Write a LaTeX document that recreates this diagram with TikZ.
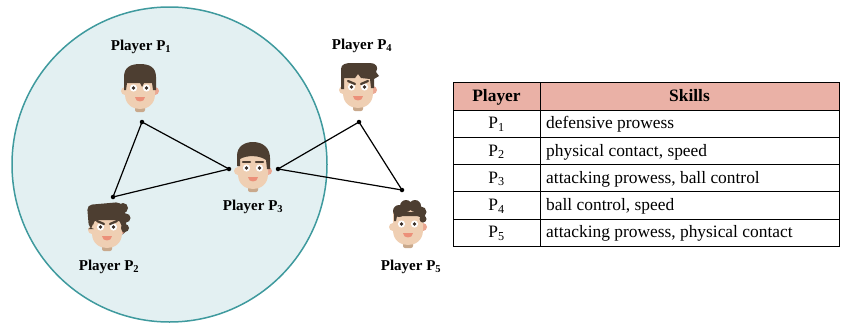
\documentclass[tikz,border=0pt]{standalone}
\usepackage{fontspec}
\setmainfont{Liberation Serif}
\usepackage{tikz}

\definecolor{ZoneFill}{HTML}{E3F0F2}
\definecolor{ZoneLine}{HTML}{3F9A9E}
\definecolor{HeadFill}{HTML}{EAB1A6}
\definecolor{Skin}{HTML}{EFCFB3}
\definecolor{Hair}{HTML}{4D3E31}
\definecolor{Cheek}{HTML}{EBA792}
\definecolor{Lips}{HTML}{EC9079}
\definecolor{Neck}{HTML}{C9A98C}
\definecolor{Pupil}{HTML}{3A2E27}

\tikzset{
  zone/.style={circle, draw=ZoneLine, fill=ZoneFill, line width=1.5pt,
    minimum size=315pt, inner sep=0pt},
  playerlabel/.style={font=\fontsize{15}{18}\selectfont\bfseries, inner sep=0pt},
  joint/.style={circle, fill=black, inner sep=0pt, minimum size=4.5pt},
  link/.style={line width=1.2pt},
  cell/.style={font=\fontsize{17.4}{20}\selectfont, inner sep=0pt},
  brow/.style={Hair, line width=2.2pt, line cap=round},
  % head without hair, eyes on the origin
  pics/player/.style={code={
    \fill[Neck, rounded corners=2pt] (-5,14) rectangle (5,24);
    \fill[Skin] (-15,3) circle (4);
    \fill[Cheek] (15,3) circle (4);
    \fill[Skin] (-15,-14) -- (-15,6) .. controls (-15,17) and (-7,21) .. (0,21)
      .. controls (7,21) and (15,17) .. (15,6) -- (15,-14) -- cycle;
    \foreach \s in {-1,1} {
      \fill[white] (\s*6.5,0) circle (3.6);
      \fill[Pupil] (\s*6.5,0) circle (1.8);
    }
    \fill[Lips] (-5,9) -- (5,9) .. controls (5,14.5) and (-5,14.5) .. (-5,9) -- cycle;
    \pic {#1};
  }},
  pics/hairbowl/.style={code={
    \fill[Hair] (-16,2) -- (-16,-11) .. controls (-16,-21) and (-9,-24) .. (0,-24)
      .. controls (9,-24) and (16,-21) .. (16,-11) -- (16,2) -- (13,2) -- (12,-5)
      -- (4,-5) -- (2,-1) -- (0,-5) -- (-13,-5) -- (-14,2) -- cycle;
  }},
  pics/haircurly/.style={code={
    \fill[Hair, rounded corners=5pt] (-18,2) -- (-20,-22) -- (14,-25) -- (19,-14)
      -- (19,4) -- (15,8) -- (14,-7) -- (-14,-7) -- (-14,2) -- cycle;
    \fill[Hair] (16,-19) circle (5) (19,-9) circle (4.5) (18,1) circle (4);
    \draw[brow] (-10,-6) -- (-3,-3) (10,-6) -- (3,-3);
  }},
  pics/hairside/.style={code={
    \fill[Hair] (-16,-2) -- (-16,-12) .. controls (-16,-22) and (-8,-26) .. (0,-26)
      .. controls (10,-26) and (17,-20) .. (17,-10) -- (17,1) -- (14,1) -- (13,-8)
      .. controls (6,-13) and (-6,-13) .. (-13,-9) -- (-13,-2) -- cycle;
    \draw[brow] (-10,-6) -- (-3,-6) (10,-6) -- (3,-6);
  }},
  pics/hairmessy/.style={code={
    \fill[Hair] (-17,2) -- (-17,-18) .. controls (-17,-23) and (-12,-24) .. (-6,-24)
      -- (12,-24) .. controls (18,-24) and (21,-20) .. (18,-15) -- (21,-11)
      -- (16,-8) -- (16,1) -- (13,1) -- (12,-8) -- (3,-9) -- (0,-13) -- (-3,-9)
      -- (-14,-9) -- (-14,2) -- cycle;
    \draw[brow] (-10,-6) -- (-3,-3) (10,-6) -- (3,-3);
  }},
  pics/hairtall/.style={code={
    \fill[Hair] (-14,-3) -- (-14,-12) -- (16,-12) -- (16,-2) -- (13,-2) -- (12,-8)
      -- (-11,-8) -- (-12,-3) -- cycle;
    \fill[Hair] (-9,-13) circle (6) (-2,-18) circle (6) (7,-18) circle (6)
      (13,-12) circle (5.5) (15,-5) circle (3.5);
  }},
}

\begin{document}
\begin{tikzpicture}[x=1pt, y=-1pt]
\useasboundingbox (0,0) rectangle (843,324);

% the team
\node[zone] (team) at (169.5,164.5) {};

% players
\pic at (140,88) {player=hairbowl};
\pic at (107,227) {player=haircurly};
\pic at (253,168) {player=hairside};
\pic at (358,87) {player=hairmessy};
\pic at (408,224) {player=hairtall};

\node[playerlabel] (n1) at (141,47) {Player P\textsubscript{1}};
\node[playerlabel] (n2) at (109,267) {Player P\textsubscript{2}};
\node[playerlabel] (n3) at (253,207) {Player P\textsubscript{3}};
\node[playerlabel] (n4) at (362,46) {Player P\textsubscript{4}};
\node[playerlabel] (n5) at (411,267) {Player P\textsubscript{5}};

% links
\node[joint] (j1) at (142,122) {};
\node[joint] (j2) at (113,197) {};
\node[joint] (j3a) at (229,169) {};
\node[joint] (j3b) at (278,169) {};
\node[joint] (j4) at (359,122) {};
\node[joint] (j5) at (402,190) {};
\draw[link] (j1.center) -- (j2.center) -- (j3a.center) -- cycle;
\draw[link] (j4.center) -- (j3b.center) -- (j5.center) -- cycle;

% skills table
\fill[HeadFill] (453,82) rectangle (839,110);
\node[cell, font=\fontsize{17.4}{20}\selectfont\bfseries, anchor=base] (hp) at (496.5,101.5) {Player};
\node[cell, font=\fontsize{17.4}{20}\selectfont\bfseries, anchor=base] (hs) at (689.5,101.5) {Skills};
\draw[line width=0.9pt] (453,82) -- (839,82) (453,110) -- (839,110);
\foreach \what [count=\i] in {defensive prowess, {physical contact, speed},
    {attacking prowess, ball control}, {ball control, speed},
    {attacking prowess, physical contact}} {
  \node[cell, anchor=base] (p\i) at (496.5,110+27.3*\i-8.6) {P\textsubscript{\i}};
  \node[cell, anchor=base west] (s\i) at (546,110+27.3*\i-8.6) {\what};
  \draw[line width=0.9pt] (453,110+27.3*\i) -- (839,110+27.3*\i);
}
\draw[line width=0.9pt] (453,82) -- (453,246.5) (540,82) -- (540,246.5)
  (839,82) -- (839,246.5);
\end{tikzpicture}
\end{document}
